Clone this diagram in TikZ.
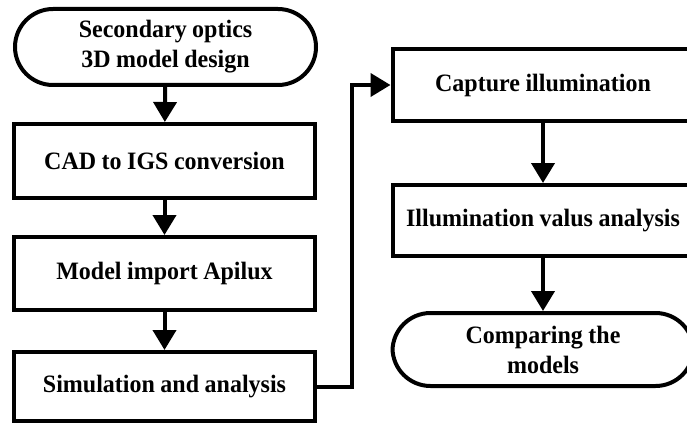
\documentclass[tikz,border=0pt]{standalone}
\usepackage{fontspec}
\setmainfont{Liberation Serif}[FakeStretch=0.96]
\usetikzlibrary{arrows.meta}
\newcommand\mynodefont{\fontsize{25}{30}\selectfont\bfseries\spaceskip=5.5pt plus 1pt minus 1pt\relax}
\tikzset{
  base/.style={draw=black, line width=4pt, fill=white, align=center, inner sep=0pt,
    font=\mynodefont, minimum width=301pt},
  procbox/.style={base},
  termbox/.style={base, rounded corners=38pt},
  flow/.style={line width=4pt, -{Triangle[width=23pt,length=20pt]}}
}
\begin{document}
\begin{tikzpicture}[x=1pt,y=1pt]
\useasboundingbox (0,0) rectangle (687,-425);
\clip (0,0) rectangle (687,-425);
\node[termbox, minimum height=76pt] (n1) at (165.5,-47) {Secondary optics\\3D model design};
\node[procbox, minimum height=74pt] (n2) at (164.5,-161) {CAD to IGS conversion};
\node[procbox, minimum height=73pt] (n3) at (164.5,-273.5) {Model import Apilux};
\node[procbox, minimum height=69pt] (n4) at (164.5,-386.5) {Simulation and analysis};
\node[procbox, minimum height=72pt] (n5) at (543,-85) {Capture illumination};
\node[procbox, minimum height=71pt] (n6) at (543,-220.5) {Illumination valus analysis};
\node[termbox, minimum height=73pt] (n7) at (543,-349.5) {Comparing the\\models};
\draw[flow] (n1) -- (n2);
\draw[flow] (n2) -- (n3);
\draw[flow] (n3) -- (n4);
\draw[flow] (n4.east) -- (352,-386.5) |- (n5.west);
\draw[flow] (n5) -- (n6);
\draw[flow] (n6) -- (n7);
\end{tikzpicture}
\end{document}
